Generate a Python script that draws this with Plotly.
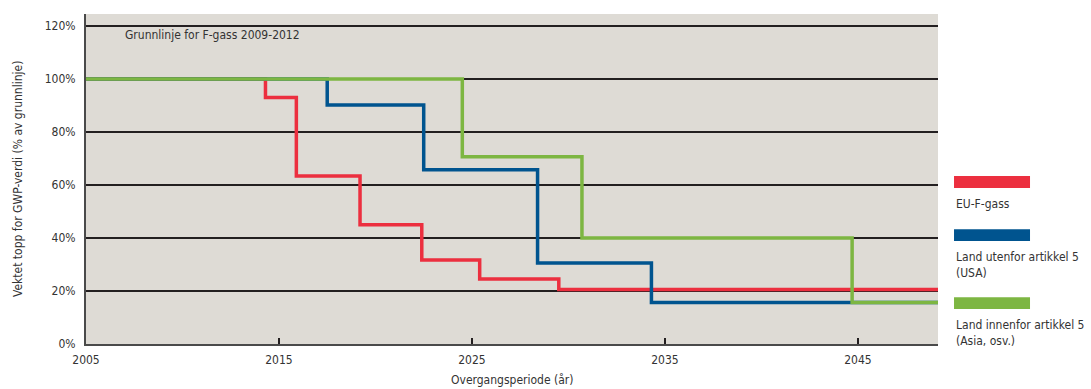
import plotly.graph_objects as go

# Data (year, % of baseline)
red_years = [2005, 2014.3, 2015.9, 2019.2, 2022.4, 2025.4, 2029.5, 2049.15]
red_vals = [100, 93, 63.4, 45, 31.7, 24.5, 20.6, 20.6]
blue_years = [2005, 2017.5, 2022.5, 2028.4, 2034.3, 2049.15]
blue_vals = [100, 90.2, 65.7, 30.6, 15.7, 15.7]
green_years = [2005, 2024.5, 2030.7, 2044.7, 2049.15]
green_vals = [100, 70.6, 40, 15.7, 15.7]

series_names = ["EU-F-gass", "Land utenfor artikkel 5<br>(USA)", "Land innenfor artikkel 5<br>(Asia, osv.)"]
colors = ["#ec2f3f", "#00548f", "#7db642"]
x_ticks = [2005, 2015, 2025, 2035, 2045]
y_ticks = [0, 20, 40, 60, 80, 100, 120]
y_tick_labels = ["0%", "20%", "40%", "60%", "80%", "100%", "120%"]

FONT = "Liberation Sans Narrow, DejaVu Sans Condensed, Arial Narrow, sans-serif"
TXT = "#333333"

fig = go.Figure()
for xs, ys, c in [(red_years, red_vals, colors[0]), (blue_years, blue_vals, colors[1]),
                  (green_years, green_vals, colors[2])]:
    fig.add_trace(go.Scatter(x=xs, y=ys, mode="lines", line=dict(color=c, width=3.5, shape="hv"),
                             showlegend=False, hoverinfo="skip"))

fig.update_layout(
    width=1091, height=389,
    margin=dict(l=86, r=153, t=14, b=45),
    paper_bgcolor="white",
    plot_bgcolor="#dedbd5",
    font=dict(family=FONT, size=12, color=TXT),
    xaxis=dict(range=[2005, 2049.15], tickvals=x_ticks, ticktext=[str(v) for v in x_ticks],
               showgrid=False, zeroline=False, showline=True, linecolor="#4a4a4a", linewidth=2,
               ticks="inside", ticklen=6, tickwidth=2, tickcolor="#231f20", automargin=False,
               tickfont=dict(size=12, color=TXT), ticklabelstandoff=4),
    yaxis=dict(range=[0, 124.5], tickvals=y_ticks, ticktext=y_tick_labels,
               showgrid=True, gridcolor="#231f20", gridwidth=2, zeroline=False, automargin=False,
               showline=True, linecolor="#4a4a4a", linewidth=2, ticks="",
               tickfont=dict(size=12, color=TXT), ticklabelstandoff=6),
)

# Axis titles
fig.add_annotation(x=0.5, y=-0.108, xref="paper", yref="paper", xanchor="center", yanchor="middle",
                   text="Overgangsperiode (år)", showarrow=False, font=dict(size=12, color=TXT))
fig.add_annotation(x=-0.0798, y=0.5, xref="paper", yref="paper", xanchor="center", yanchor="middle",
                   text="Vektet topp for GWP-verdi (% av grunnlinje)", textangle=-90,
                   showarrow=False, font=dict(size=12, color=TXT))

fig.add_annotation(x=0.043, y=0.935, xref="paper", yref="paper", xanchor="left", yanchor="middle",
                   text="Grunnlinje for F-gass 2009-2012", showarrow=False,
                   font=dict(size=12, color=TXT))

# Custom legend on the right
leg = [(0.491, series_names[0]), (0.330, series_names[1]), (0.124, series_names[2])]
for (ytop, name), c in zip(leg, colors):
    fig.add_shape(type="rect", xref="paper", yref="paper", x0=1.0188, x1=1.108,
                  y0=ytop - 0.018, y1=ytop + 0.018, fillcolor=c, line=dict(width=0))
    fig.add_annotation(x=1.0188, y=ytop - 0.04, xref="paper", yref="paper", xanchor="left",
                       yanchor="top", align="left", text=name, showarrow=False,
                       font=dict(size=12, color=TXT))

fig.write_html("out.html")
